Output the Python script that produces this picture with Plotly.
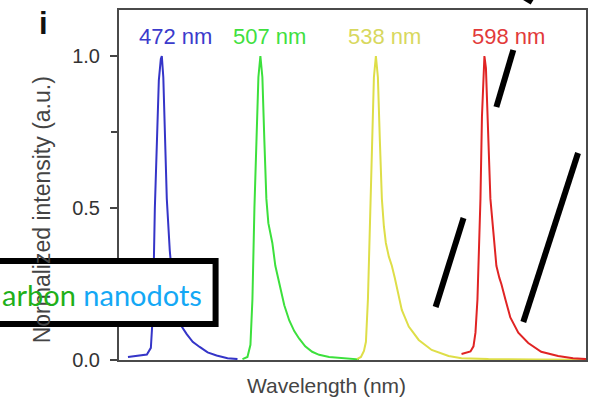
import plotly.graph_objects as go

# ---- data (x in relative wavelength units along the axis, y normalized intensity) ----
blue_x = [9, 21, 28, 32, 34, 36, 38, 40, 42, 43, 44.5, 46, 47, 48, 51, 54, 58, 63, 68, 74, 81, 89, 98, 109, 119]
blue_y = [0.01, 0.015, 0.018, 0.04, 0.15, 0.5, 0.75, 0.92, 0.99, 1.0, 0.93, 0.75, 0.62, 0.53, 0.36, 0.25, 0.16, 0.11, 0.085, 0.06, 0.043, 0.025, 0.015, 0.006, 0.003]

green_x = [124, 129, 132, 134, 136, 138, 140, 142, 144, 146, 148, 150, 152, 154, 157, 161, 166, 171, 176, 181, 187, 194, 201, 211, 226, 241]
green_y = [0.003, 0.01, 0.05, 0.2, 0.5, 0.75, 0.93, 1.0, 0.93, 0.72, 0.53, 0.45, 0.42, 0.385, 0.31, 0.25, 0.18, 0.13, 0.095, 0.07, 0.045, 0.027, 0.017, 0.01, 0.005, 0.002]

yellow_x = [239, 243, 246, 248, 250, 252, 254, 256, 258, 260, 262, 264, 266, 268, 271, 274, 277, 279, 284, 291, 301, 314, 331, 344, 371, 421, 469]
yellow_y = [0.003, 0.01, 0.03, 0.06, 0.2, 0.45, 0.75, 0.93, 1.0, 0.93, 0.72, 0.53, 0.44, 0.385, 0.34, 0.31, 0.27, 0.24, 0.165, 0.11, 0.066, 0.033, 0.013, 0.006, 0.003, 0.002, 0.001]

red_x = [344, 349, 353, 356, 358, 360, 362, 363, 364.5, 366, 367, 368.5, 370, 371.5, 373, 376, 379, 382, 384, 388, 393, 401, 411, 424, 441, 456, 469]
red_y = [0.02, 0.025, 0.028, 0.045, 0.09, 0.2, 0.38, 0.53, 0.8, 0.96, 1.0, 0.96, 0.8, 0.65, 0.53, 0.42, 0.31, 0.27, 0.25, 0.2, 0.14, 0.09, 0.056, 0.027, 0.013, 0.006, 0.003]

peak_labels = ["472 nm", "507 nm", "538 nm", "598 nm"]
y_ticks = [0.0, 0.5, 1.0]
y_tick_text = ["0.0", "0.5", "1.0"]

series = [
    (blue_x, blue_y, "#3535c8"),
    (green_x, green_y, "#3ce03c"),
    (yellow_x, yellow_y, "#dede48"),
    (red_x, red_y, "#e02424"),
]
label_colors = ["#3b3bcc", "#3fe03f", "#d8d85e", "#e23a3a"]

W, H = 591, 401
L, R, T, B = 119, 3, 10, 41
PW, PH = W - L - R, H - T - B


def px(x):
    return (x - L) / PW


def py(y):
    return (H - B - y) / PH


fig = go.Figure()
for xs, ys, c in series:
    fig.add_trace(go.Scatter(x=xs, y=ys, mode="lines", line=dict(color=c, width=2), showlegend=False, hoverinfo="skip"))

font_main = "Liberation Sans, Arial, sans-serif"

fig.update_layout(
    width=W, height=H,
    margin=dict(l=L, r=R, t=T, b=B, pad=0),
    paper_bgcolor="white", plot_bgcolor="white",
    xaxis=dict(range=[0, PW], showgrid=False, zeroline=False, showticklabels=False, ticks="",
               showline=True, linecolor="#4a4a4a", linewidth=2, mirror=True),
    yaxis=dict(range=[0, 350 / 304], showgrid=False, zeroline=False,
               tickvals=y_ticks, ticktext=y_tick_text, ticks="outside", ticklen=7, tickwidth=1.5,
               tickcolor="#444", ticklabelstandoff=6,
               tickfont=dict(family=font_main, size=20, color="#333"),
               minor=dict(tickvals=[0.25, 0.75], ticks="outside", ticklen=6, tickwidth=1.5, tickcolor="#444"),
               showline=True, linecolor="#4a4a4a", linewidth=2, mirror=True),
)

ann = []
label_pos = [176, 270, 386, 510]
for t, c, xp in zip(peak_labels, label_colors, label_pos):
    ann.append(dict(x=px(xp), y=py(36), xref="paper", yref="paper", text=t, showarrow=False,
                    font=dict(family=font_main, size=22, color=c), xanchor="center", yanchor="middle"))
ann.append(dict(x=px(327), y=py(385), xref="paper", yref="paper", text="Wavelength (nm)", showarrow=False,
                font=dict(family=font_main, size=21, color="#444"), xanchor="center", yanchor="middle"))
ann.append(dict(x=px(42), y=py(210), xref="paper", yref="paper", text="Normalized intensity (a.u.)", showarrow=False,
                textangle=-90, font=dict(family=font_main, size=23, color="#444"), xanchor="center", yanchor="middle"))
ann.append(dict(x=px(43), y=py(23), xref="paper", yref="paper", text="<b>i</b>", showarrow=False,
                font=dict(family=font_main, size=31, color="#111"), xanchor="center", yanchor="middle"))

shapes = []
# overlay box
shapes.append(dict(type="rect", xref="paper", yref="paper", x0=px(-10), x1=px(216), y0=py(324), y1=py(261),
                   line=dict(color="black", width=6), fillcolor="white", layer="above"))
ann.append(dict(x=px(-1), y=py(294), xref="paper", yref="paper",
                text="<span style='color:#1fb01a'>arbon</span> <span style='color:#14a8f5'>nanodots</span>",
                showarrow=False, font=dict(family="Lato, Open Sans, sans-serif", size=29), xanchor="left", yanchor="middle"))
# overlay slashes
for (x0, y0, x1, y1) in [(515, 50, 498, 107), (580, 153, 525, 322), (465, 218, 437, 307), (524, -4, 534, 2)]:
    shapes.append(dict(type="line", xref="paper", yref="paper", x0=px(x0), y0=py(y0), x1=px(x1), y1=py(y1),
                       line=dict(color="black", width=6), layer="above"))

fig.update_layout(annotations=ann, shapes=shapes)
fig.write_html("out.html", config={"displayModeBar": False},
               post_script="document.body.style.margin='0';document.body.style.overflow='hidden';")
